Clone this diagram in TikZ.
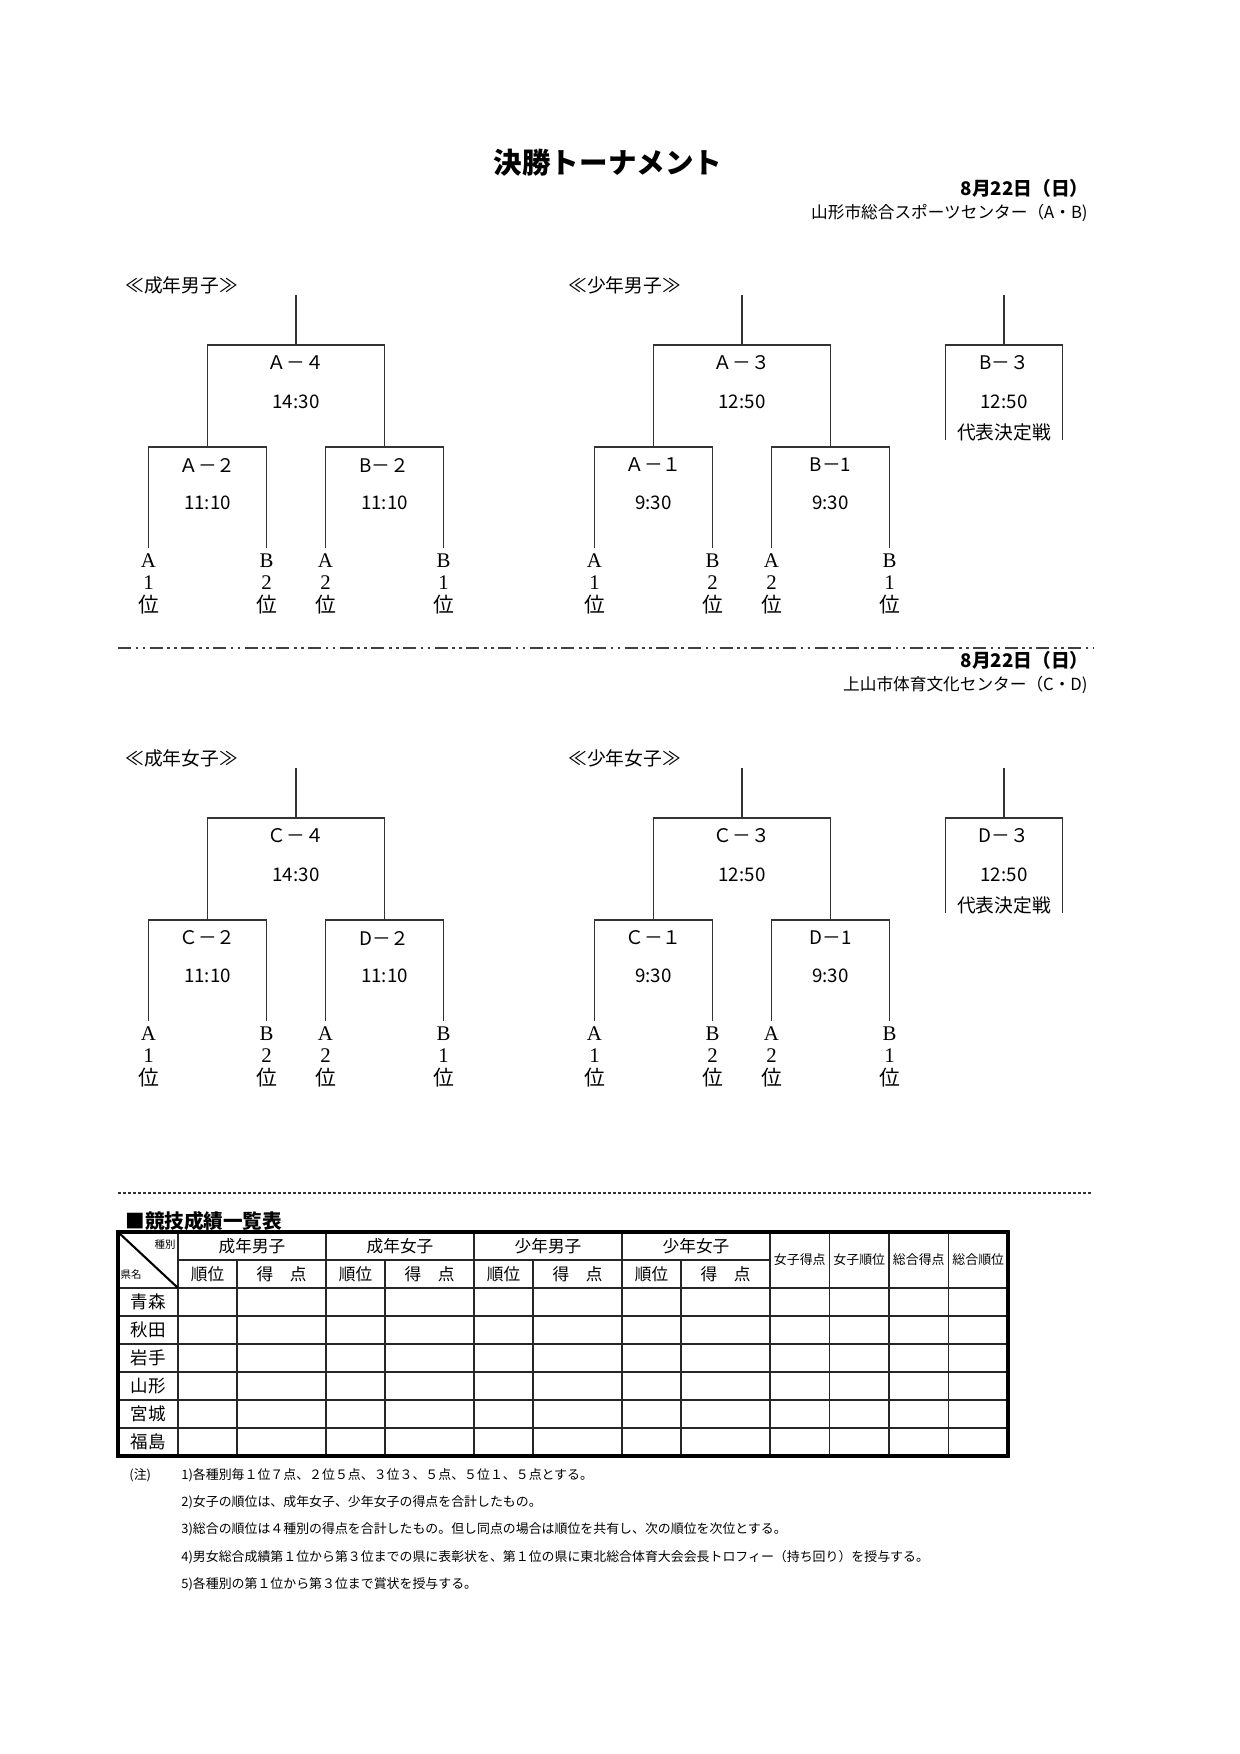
\documentclass[tikz,border=0pt]{standalone}
\usepackage{fontspec}
\setmainfont{Noto Sans CJK JP}
\newfontfamily\leaffont{Liberation Serif}
\usetikzlibrary{calc}

\tikzset{
  bline/.style={line width=0.7pt, black!80},
  gtext/.style={inner sep=0pt, font=\fontsize{9}{10}\selectfont},
  leaf/.style={anchor=north, inner xsep=0pt, inner ysep=2.4pt, align=center, font=\fontsize{10}{10.8}\selectfont},
  tline/.style={line width=0.6pt, black!85},
  ttext/.style={inner sep=0pt, font=\fontsize{8}{9}\selectfont},
  note/.style={anchor=west, inner sep=0pt, font=\fontsize{6.2}{7}\selectfont},
}

% one bracket of two games feeding a final: name, root x, y shift, labels
\newcommand{\gamebracket}[8]{%
  \coordinate (#1r) at (#2,295+#3);
  \coordinate (#1t) at (#2,345+#3);
  \coordinate (#1l) at (#2-88.5,447+#3);
  \coordinate (#1q) at (#2+88.5,447+#3);
  \node[leaf] (#1a) at (#2-147.5,548+#3) {{\leaffont A}\\{\leaffont 1}\\位};
  \node[leaf] (#1b) at (#2-29.5,548+#3) {{\leaffont B}\\{\leaffont 2}\\位};
  \node[leaf] (#1c) at (#2+29.5,548+#3) {{\leaffont A}\\{\leaffont 2}\\位};
  \node[leaf] (#1d) at (#2+147.5,548+#3) {{\leaffont B}\\{\leaffont 1}\\位};
  \draw[bline] (#1r) -- (#1t);
  \draw[bline] (#1l) |- (#1t) -| (#1q);
  \draw[bline] (#1a.north) |- (#1l) -| (#1b.north);
  \draw[bline] (#1c.north) |- (#1q) -| (#1d.north);
  \node[gtext] (#1fin) at (#2,363+#3) {#4};
  \node[gtext] (#1fintime) at (#2,402+#3) {#5};
  \node[gtext] (#1left) at (#2-88.5,465+#3) {#6};
  \node[gtext] (#1lefttime) at (#2-88.5,503+#3) {#8};
  \node[gtext] (#1right) at (#2+88.5,465+#3) {#7};
  \node[gtext] (#1righttime) at (#2+88.5,503+#3) {#8};
}

\begin{document}
\begin{tikzpicture}[x=0.48pt, y=-0.48pt]
  \useasboundingbox (0,0) rectangle (1240,1754);

  \node[font=\fontsize{13.7}{15}\selectfont\bfseries] (title) at (608,163) {決勝トーナメント};

  \foreach \dy/\dd/\ga/\gb/\ka/\kb/\place/\s in {0/0/Ａ/B/成年男子/少年男子/山形市総合スポーツセンター（A・B)/m, 473/472/Ｃ/D/成年女子/少年女子/上山市体育文化センター（C・D)/w} {
    \node[anchor=east, inner sep=0pt, font=\fontsize{9}{10}\selectfont\bfseries] (date\s) at (1089,188+\dd) {8月22日（日）};
    \node[anchor=east, inner sep=0pt, font=\fontsize{8}{9}\selectfont] (place\s) at (1088,213+\dd) {\place};
    \node[anchor=west, inner sep=0pt, font=\fontsize{9}{10}\selectfont] (cat\s a) at (125,285+\dy) {≪\ka≫};
    \node[anchor=west, inner sep=0pt, font=\fontsize{9}{10}\selectfont] (cat\s b) at (568,285+\dy) {≪\kb≫};

    \gamebracket{s\s}{296}{\dy}{\ga－４}{14:30}{\ga－２}{\gb－２}{11:10}
    \gamebracket{k\s}{742}{\dy}{\ga－３}{12:50}{\ga－１}{\gb－1}{9:30}

    % play-off for the representative
    \coordinate (x\s r) at (1004,295+\dy);
    \coordinate (x\s t) at (1004,345+\dy);
    \coordinate (x\s nw) at (945.5,345+\dy);
    \coordinate (x\s ne) at (1062.5,345+\dy);
    \coordinate (x\s sw) at (945.5,440+\dy);
    \coordinate (x\s se) at (1062.5,440+\dy);
    \draw[bline] (x\s r) -- (x\s t);
    \draw[bline] (x\s sw) -- (x\s nw) -- (x\s ne) -- (x\s se);
    \node[gtext] (x\s lbl) at (1004,363+\dy) {\gb－３};
    \node[gtext] (x\s time) at (1004,402+\dy) {12:50};
    \node[gtext] (x\s note) at (1004,432+\dy) {代表決定戦};
  }

  \draw[line width=0.9pt, black!75, dash pattern=on 6.3pt off 2.1pt on 1.3pt off 2.1pt on 1.3pt off 2.1pt] (118,648) -- (1093,648);
  \draw[line width=0.5pt, black!80, dash pattern=on 1.6pt off 0.8pt] (118,1193) -- (1093,1193);

  % results table
  \node[anchor=west, inner sep=0pt, font=\fontsize{9.4}{10}\selectfont\bfseries] (tabtitle) at (125,1221) {■競技成績一覧表};
  \draw[tline] (178,1260) -- (770,1260);
  \foreach \y in {1288,1316,...,1428}
    \draw[tline] (118,\y) -- (1008,\y);
  \foreach \x in {178,326,474,622,770,829.5,889,948.5}
    \draw[tline] (\x,1232) -- (\x,1456);
  \foreach \t [count=\i] in {成年男子,成年女子,少年男子,少年女子} {
    \pgfmathsetmacro\gx{178+148*(\i-1)}
    \draw[tline] (\gx+59,1260) -- (\gx+59,1456);
    \node[ttext] (grp\i) at (\gx+74,1246) {\t};
    \node[ttext] (rank\i) at (\gx+29.5,1274) {順位};
    \node[ttext] (pts\i) at (\gx+103.5,1274) {得　点};
  }
  \foreach \t [count=\i] in {女子得点,女子順位,総合得点,総合順位}
    \node[ttext, font=\fontsize{6.2}{7}\selectfont] (sum\i) at (740.25+59.5*\i,1260) {\t};
  \foreach \t [count=\i] in {青森,秋田,岩手,山形,宮城,福島}
    \node[ttext, font=\fontsize{8.4}{9}\selectfont] (pref\i) at (148,1274+28*\i) {\t};
  \draw[line width=1pt] (118,1232) -- (178,1288);
  \node[ttext, font=\fontsize{5}{6}\selectfont] (kind) at (165,1245) {種別};
  \node[ttext, font=\fontsize{5}{6}\selectfont] (prefhead) at (131,1275) {県名};
  \draw[line width=1.5pt] (118,1232) rectangle (1008,1456);

  % notes
  \node[note] (chu) at (129,1475) {(注)};
  \foreach \t [count=\i] in {1)各種別毎１位７点、２位５点、３位３、５点、５位１、５点とする。,
      2)女子の順位は、成年女子、少年女子の得点を合計したもの。,
      3)総合の順位は４種別の得点を合計したもの。但し同点の場合は順位を共有し、次の順位を次位とする。,
      4)男女総合成績第１位から第３位までの県に表彰状を、第１位の県に東北総合体育大会会長トロフィー（持ち回り）を授与する。,
      5)各種別の第１位から第３位まで賞状を授与する。}
    \node[note] (note\i) at (181,1475+27.3*\i-27.3) {\t};
\end{tikzpicture}
\end{document}
